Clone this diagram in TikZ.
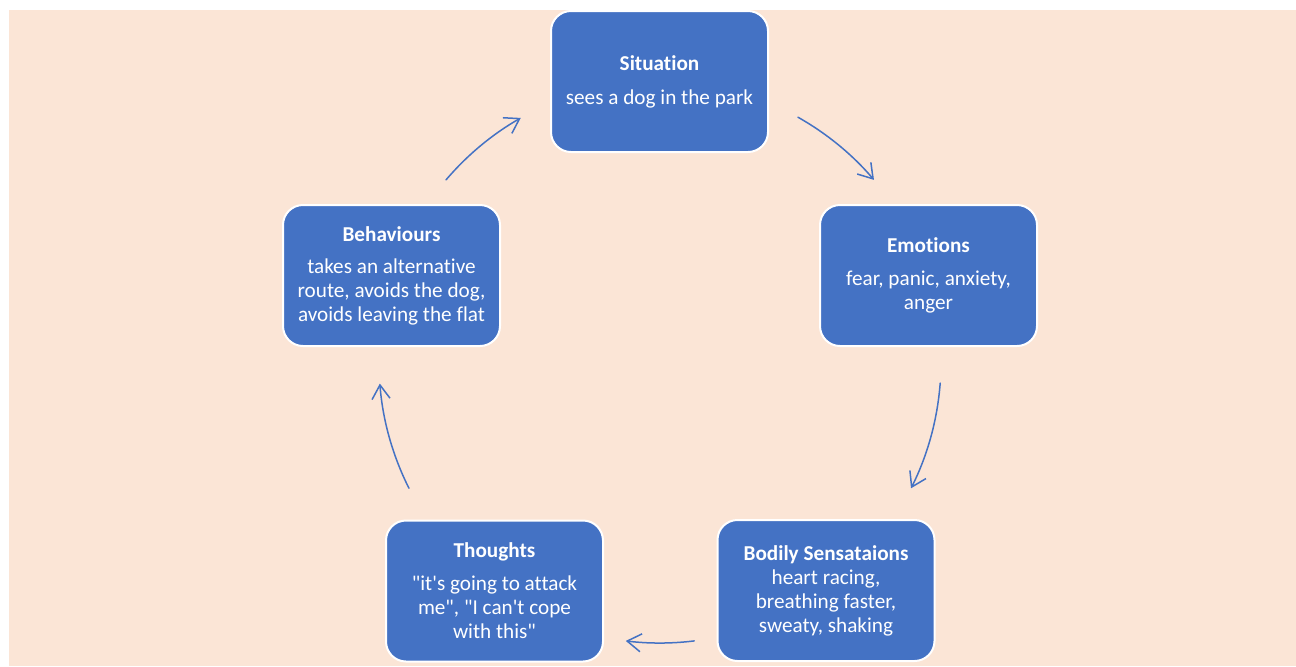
\documentclass[tikz,border=0pt]{standalone}
\usepackage{fontspec}
\setmainfont{Carlito}[Ligatures={TeX,NoCommon}]
\usetikzlibrary{arrows.meta}
\definecolor{peach}{HTML}{FBE5D6}
\definecolor{boxblue}{HTML}{4472C4}
\begin{document}
\begin{tikzpicture}[x=0.5pt, y=0.5pt, line join=round, line cap=round,
	stage/.style={draw=white, line width=1pt, fill=boxblue, rounded corners=10pt,
		minimum width=108.5pt, minimum height=70.5pt, align=center, text=white,
		font=\fontsize{10.6pt}{12pt}\selectfont},
	cyc/.style={draw=boxblue, line width=0.75pt, -{Straight Barb[length=7pt, width=9pt]}}]
	\def\rr{281}
	\def\q{\textquotedbl}
	\useasboundingbox (0,0) rectangle (1296,-666);
	\fill[peach] (9,-10) rectangle (1296,-666);
	\coordinate (ctr) at (660,-362);
	% the five stages
	\node[stage] (sit) at (659.5,-81.5) {\textbf{Situation}\\[5pt] sees a dog in the park};
	\node[stage] (emo) at (928.5,-275.5) {\textbf{Emotions}\\[4.5pt] fear, panic, anxiety,\\ anger};
	\node[stage] (bod) at (826,-590.5) {\textbf{Bodily Sensataions}\\ heart racing,\\ breathing faster,\\ sweaty, shaking};
	\node[stage] (tho) at (494.5,-591) {\textbf{Thoughts}\\[4.5pt] \q it\textquotesingle s going to attack\\ me\q, \q I can\textquotesingle t cope\\ with this\q};
	\node[stage] (beh) at (391.5,-275.5) {\textbf{Behaviours}\\[4pt] takes an alternative\\ route, avoids the dog,\\ avoids leaving the flat};
	% arcs of the cycle
	\draw[cyc] (ctr) ++(60.6:\rr) arc[start angle=60.6, end angle=40.4, radius=\rr];
	\draw[cyc] (ctr) ++(-4.3:\rr) arc[start angle=-4.3, end angle=-26.7, radius=\rr];
	\draw[cyc] (ctr) ++(-83:\rr) arc[start angle=-83, end angle=-97, radius=\rr];
	\draw[cyc] (ctr) ++(-153.3:\rr) arc[start angle=-153.3, end angle=-175.6, radius=\rr];
	\draw[cyc] (ctr) ++(139.6:\rr) arc[start angle=139.6, end angle=119.7, radius=\rr];
\end{tikzpicture}
\end{document}
